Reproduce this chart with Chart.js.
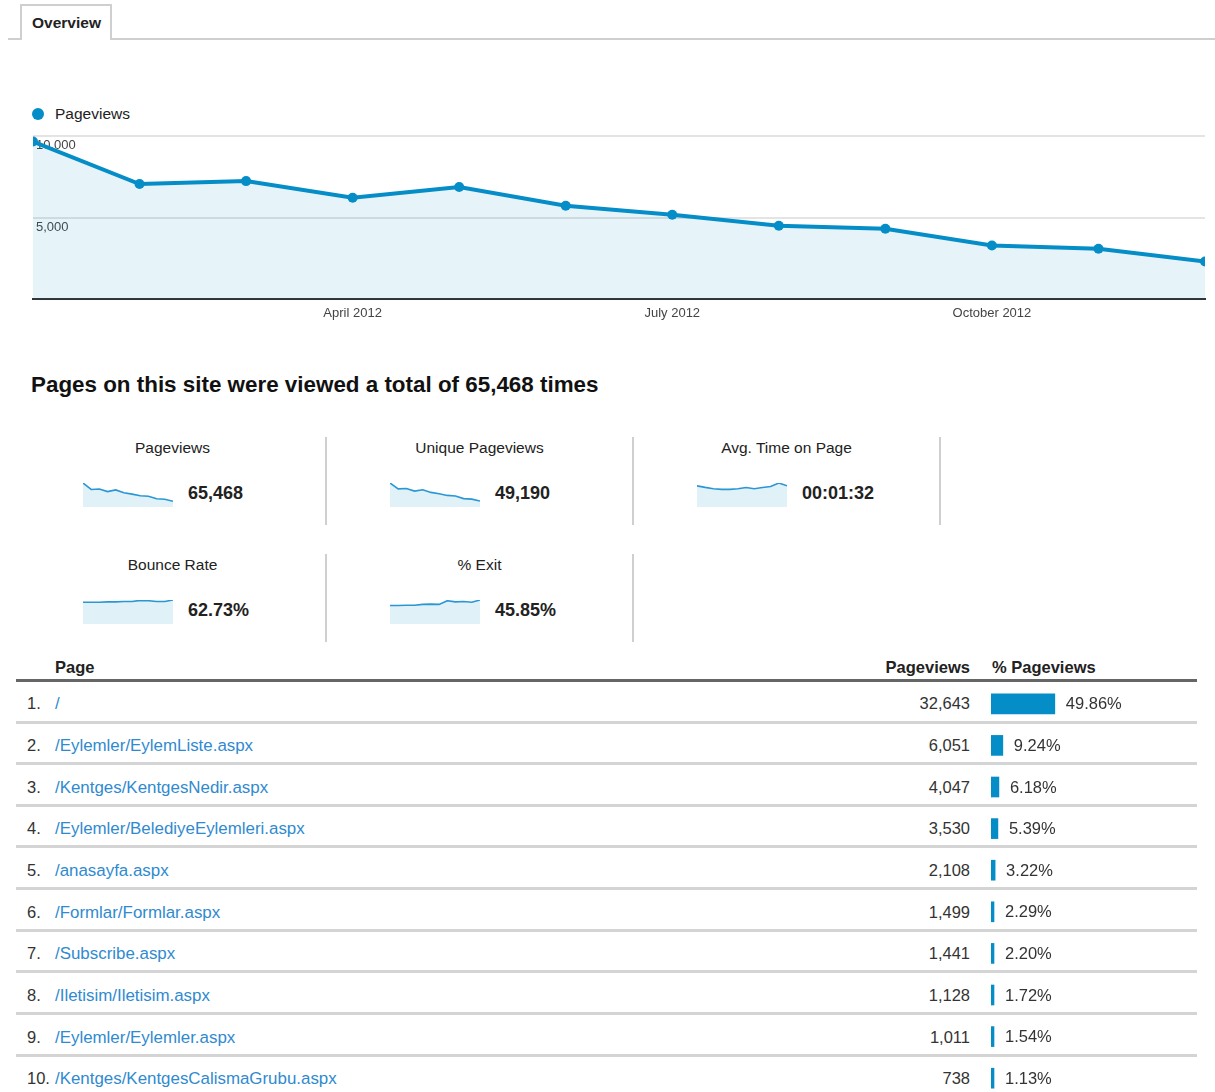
<!DOCTYPE html>
<html>
<head>
<meta charset="utf-8">
<title>Overview</title>
<script src="https://cdn.jsdelivr.net/npm/chart.js@4.4.0/dist/chart.umd.min.js"></script>
<style>
  body { margin:0; width:1215px; height:1092px; overflow:hidden; background:#fff; position:relative;
         font-family:"Liberation Sans", Arial, sans-serif; color:#222; }
  .abs { position:absolute; }
  .tabline { left:8px; top:38px; width:1207px; height:2px; background:#cfcfcf; }
  .tab { left:20px; top:4px; width:92px; height:36px; box-sizing:border-box; border:2px solid #cfcfcf; border-bottom:none;
         background:#fff; font-weight:bold; font-size:15.5px; line-height:34px; padding-left:10px; color:#222; }
  .legend { left:32px; top:104px; height:20px; line-height:20px; font-size:15.5px; }
  .legend i { display:inline-block; width:12px; height:12px; border-radius:50%; background:#058dc7; vertical-align:-1px; margin-right:11px; }
  .heading { left:31px; top:372px; font-size:22.4px; font-weight:bold; line-height:26px; color:#111; }
  .sc-title { width:307px; text-align:center; font-size:15.5px; line-height:20px; }
  .sc-value { font-size:18px; font-weight:bold; line-height:22px; }
  .divider { width:2px; background:#cfcfcf; }
  .spark { width:90px; height:26px; }
  .th { font-size:16.5px; font-weight:bold; line-height:20px; top:657px; }
  .td { font-size:16.5px; line-height:20px; color:#333; }
  .td a { color:#2f8ad0; text-decoration:none; font-size:16.9px; }
</style>
</head>
<body>
<div class="abs tabline"></div>
<div class="abs tab">Overview</div>

<div class="abs legend"><i></i>Pageviews</div>
<div class="abs" style="left:20px; top:125px; width:1195px; height:202px;"><canvas id="chart1"></canvas></div>

<div class="abs heading">Pages on this site were viewed a total of 65,468 times</div>

<div id="cards"></div>

<div class="abs th" style="left:55px;">Page</div>
<div class="abs th" style="right:245px; text-align:right;">Pageviews</div>
<div class="abs th" style="left:992px;">% Pageviews</div>
<div class="abs" style="left:16px; top:679px; width:1181px; height:3px; background:#666;"></div>
<div id="rows"></div>
<div class="abs" style="left:991px; top:683px; width:224px; height:416px;"><canvas id="chart2"></canvas></div>

<script>
// main chart
var months = ['January 2012', 'February 2012', 'March 2012', 'April 2012', 'May 2012', 'June 2012',
              'July 2012', 'August 2012', 'September 2012', 'October 2012', 'November 2012', 'December 2012'];
var shownMonths = ['April 2012', 'July 2012', 'October 2012'];
var pageviews = [9650, 7050, 7230, 6210, 6870, 5720, 5170, 4500, 4320, 3290, 3100, 2320];
var yTicks = [5000, 10000];

// sparklines
var uniquePageviews = [7150, 5400, 5500, 4750, 5150, 4350, 3950, 3450, 3300, 2500, 2350, 1795];
var avgTimeSec = [97, 90, 84, 81, 81, 84, 89, 84, 89, 94, 110, 97];
var bounceRate = [59.8, 59.8, 59.8, 60.8, 60.8, 61.9, 61.9, 65, 64, 61.9, 61.9, 66];
var exitRate = [38.5, 38.5, 39.2, 39.2, 40.8, 41.5, 40.8, 48.5, 46.2, 46.9, 45.4, 50];

var cardTitles = ['Pageviews', 'Unique Pageviews', 'Avg. Time on Page', 'Bounce Rate', '% Exit'];
var cardValues = ['65,468', '49,190', '00:01:32', '62.73%', '45.85%'];
var cardSeries = [pageviews, uniquePageviews, avgTimeSec, bounceRate, exitRate];

// table
var pages = ['/', '/Eylemler/EylemListe.aspx', '/Kentges/KentgesNedir.aspx', '/Eylemler/BelediyeEylemleri.aspx',
             '/anasayfa.aspx', '/Formlar/Formlar.aspx', '/Subscribe.aspx', '/Iletisim/Iletisim.aspx',
             '/Eylemler/Eylemler.aspx', '/Kentges/KentgesCalismaGrubu.aspx'];
var pagePageviews = ['32,643', '6,051', '4,047', '3,530', '2,108', '1,499', '1,441', '1,128', '1,011', '738'];
var pagePercent = [49.86, 9.24, 6.18, 5.39, 3.22, 2.29, 2.20, 1.72, 1.54, 1.13];

var BLUE = '#058dc7';
Chart.defaults.font.family = "'Liberation Sans', Arial, sans-serif";
Chart.defaults.animation = false;
Chart.defaults.events = [];
Chart.defaults.plugins.legend.display = false;
Chart.defaults.plugins.tooltip.enabled = false;

function yTickList(axis) {
  axis.ticks = [{ value: 0 }].concat(yTicks.map(function(v) { return { value: v }; }));
}

var ctx = document.getElementById('chart1').getContext('2d');
new Chart(ctx, {
  type: 'line',
  data: {
    labels: months,
    datasets: [{
      label: 'Pageviews',
      data: pageviews,
      borderColor: BLUE,
      borderWidth: 4,
      pointRadius: 5,
      pointBorderWidth: 0,
      pointBackgroundColor: BLUE,
      fill: 'origin',
      backgroundColor: 'rgba(5,141,199,0.1)',
      tension: 0,
      clip: 0
    }]
  },
  options: {
    responsive: true,
    maintainAspectRatio: false,
    layout: { padding: { left: 7, right: 10, top: 10, bottom: 0 } },
    scales: {
      x: {
        ticks: {
          autoSkip: false, maxRotation: 0, padding: 6, color: '#444', font: { size: 13 },
          callback: function(v, i) { return shownMonths.indexOf(months[i]) >= 0 ? months[i] : ''; }
        },
        grid: { display: true, color: 'rgba(0,0,0,0)', drawTicks: false },
        border: { display: true, color: '#333', width: 2 }
      },
      y: {
        min: 0, max: 10000,
        afterBuildTicks: yTickList,
        ticks: { display: false },
        grid: {
          drawTicks: false, lineWidth: 2,
          color: function(c) { return c.tick && c.tick.value === 0 ? 'rgba(0,0,0,0)' : '#e4e4e4'; }
        },
        border: { display: false }
      },
      // labels only, drawn above the line like the original
      yLabels: {
        position: 'left', z: 1,
        min: 0, max: 10000,
        afterBuildTicks: yTickList,
        ticks: {
          mirror: true, padding: 3, labelOffset: 10, color: '#444', font: { size: 13 },
          callback: function(v) { return v === 0 ? '' : v.toLocaleString('en-US'); }
        },
        grid: { display: false, drawTicks: false },
        border: { display: false }
      }
    }
  }
});

// scorecards
var cards = document.getElementById('cards');
var cellLeft = [19, 326, 633];
var rowTop = [437, 554];
cardTitles.forEach(function(t, k) {
  var col = k < 3 ? k : k - 3, row = k < 3 ? 0 : 1;
  var x = cellLeft[col], y = rowTop[row];
  var html = '<div class="abs sc-title" style="left:' + x + 'px; top:' + (y + 1) + 'px;">' + t + '</div>' +
             '<div class="abs sc-value" style="left:' + (x + 169) + 'px; top:' + (y + 45) + 'px;">' + cardValues[k] + '</div>' +
             '<div class="abs spark" style="left:' + (x + 64) + 'px; top:' + (y + 44) + 'px;"><canvas id="spark' + k + '"></canvas></div>' +
             '<div class="abs divider" style="left:' + (x + 306) + 'px; top:' + y + 'px; height:88px;"></div>';
  cards.insertAdjacentHTML('beforeend', html);
});

cardSeries.forEach(function(series, k) {
  new Chart(document.getElementById('spark' + k).getContext('2d'), {
    type: 'line',
    data: {
      labels: months,
      datasets: [{
        data: series,
        borderColor: '#2a97d4',
        borderWidth: 1.6,
        pointRadius: 0,
        fill: 'origin',
        backgroundColor: 'rgba(5,141,199,0.12)',
        tension: 0
      }]
    },
    options: {
      responsive: true,
      maintainAspectRatio: false,
      layout: { padding: { top: 2, left: 0, right: 0, bottom: 0 } },
      scales: {
        x: { display: false },
        y: { display: false, min: 0, max: Math.max.apply(null, series) }
      }
    }
  });
});

// table rows
var rows = document.getElementById('rows');
pages.forEach(function(p, i) {
  var top = 682.5 + i * 41.65;
  var mid = top + 20.8 - 10;
  var html = '<div class="abs td" style="left:27px; top:' + mid + 'px;">' + (i + 1) + '.</div>' +
             '<div class="abs td" style="left:55px; top:' + mid + 'px;"><a>' + p + '</a></div>' +
             '<div class="abs td" style="right:245px; top:' + mid + 'px; text-align:right;">' + pagePageviews[i] + '</div>';
  if (i < pages.length - 1) {
    html += '<div class="abs" style="left:16px; top:' + (top + 38) + 'px; width:1181px; height:3px; background:#d4d4d4;"></div>';
  }
  rows.insertAdjacentHTML('beforeend', html);
});

// % pageviews bars
var pctLabels = {
  id: 'pctLabels',
  afterDatasetsDraw: function(chart) {
    var c = chart.ctx;
    var meta = chart.getDatasetMeta(0);
    c.save();
    c.font = "16.5px 'Liberation Sans', Arial, sans-serif";
    c.fillStyle = '#333';
    c.textBaseline = 'middle';
    meta.data.forEach(function(bar, i) {
      c.fillText(pagePercent[i].toFixed(2) + '%', bar.x + 11, bar.y + 1);
    });
    c.restore();
  }
};

new Chart(document.getElementById('chart2').getContext('2d'), {
  type: 'bar',
  data: {
    labels: pages,
    datasets: [{
      data: pagePercent,
      backgroundColor: BLUE,
      borderWidth: 0,
      barThickness: 20,
      minBarLength: 3
    }]
  },
  options: {
    indexAxis: 'y',
    responsive: true,
    maintainAspectRatio: false,
    layout: { padding: 0 },
    scales: {
      x: { display: false, min: 0, max: 175 },
      y: { display: false }
    }
  },
  plugins: [pctLabels]
});
</script>
</body>
</html>
